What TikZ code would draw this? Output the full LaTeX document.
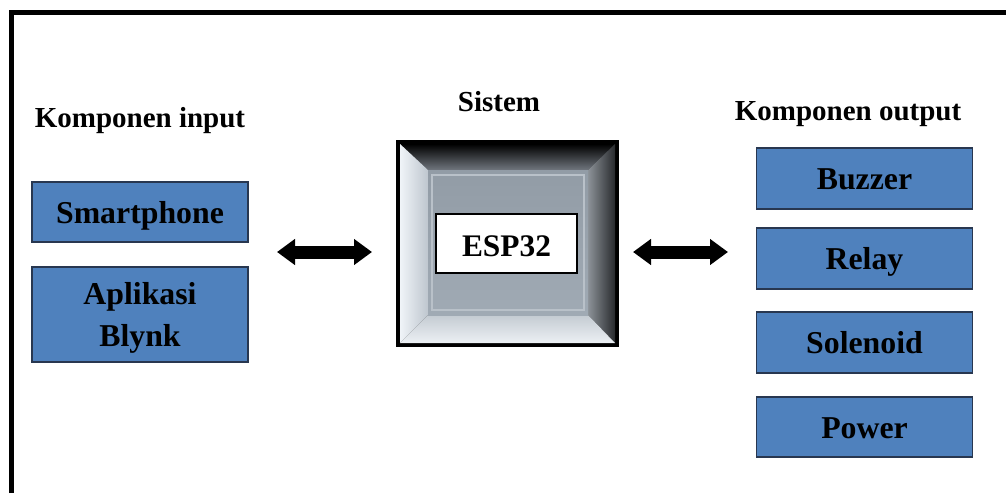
\documentclass[tikz,border=0pt]{standalone}
\usepackage{fontspec}
\setmainfont{Liberation Serif}
\usetikzlibrary{arrows.meta}
\definecolor{boxblue}{RGB}{79,129,189}
\definecolor{boxedge}{RGB}{40,55,80}
\definecolor{bevtopin}{RGB}{112,118,126}
\definecolor{bevleftout}{RGB}{240,244,248}
\definecolor{bevleftin}{RGB}{190,198,206}
\definecolor{bevrightin}{RGB}{140,146,152}
\definecolor{bevrightout}{RGB}{40,42,45}
\definecolor{bevbotin}{RGB}{196,203,210}
\definecolor{bevbotout}{RGB}{236,240,244}
\definecolor{facetop}{RGB}{146,156,166}
\definecolor{facebot}{RGB}{160,170,180}
\definecolor{faceline}{RGB}{185,193,201}
\begin{document}
\begin{tikzpicture}[x=1pt,y=-1pt,
  blockbox/.style={draw=boxedge, line width=1.5pt, fill=boxblue,
    minimum width=216pt, inner sep=0pt, align=center,
    text height=24pt, text depth=2pt,
    font=\fontsize{31.8}{42}\selectfont\bfseries},
  heading/.style={anchor=base, font=\fontsize{29}{34}\selectfont\bfseries},
  link/.style={line width=13pt, {Triangle[length=18pt,width=25pt]}-{Triangle[length=18pt,width=25pt]}}
]
\useasboundingbox (0,0) rectangle (1006,493);
% outer frame
\draw[line width=5pt] (11,493) -- (11,12.5) -- (1006,12.5);

% headings
\node[heading] (hin) at (140,127) {Komponen input};
\node[heading] (hsys) at (499,111) {Sistem};
\node[heading] (hout) at (848,120) {Komponen output};

% input blocks
\node[blockbox, minimum height=60pt] (phone) at (140,212) {Smartphone};
\node[blockbox, minimum height=95pt, text height=66pt] (app) at (140,314.5) {Aplikasi\\Blynk};

% output blocks
\node[blockbox, minimum height=61pt] (buzzer) at (864.5,178.5) {Buzzer};
\node[blockbox, minimum height=61pt] (relay) at (864.5,258.5) {Relay};
\node[blockbox, minimum height=61pt] (solenoid) at (864.5,342.5) {Solenoid};
\node[blockbox, minimum height=60pt] (power) at (864.5,427) {Power};

% bevelled system block
\fill[black] (396,140) rectangle (619,347);
\shade[top color=black, bottom color=bevtopin]
  (400,144) -- (615,144) -- (588,170) -- (428,170) -- cycle;
\shade[left color=bevleftout, right color=bevleftin]
  (400,144) -- (428,170) -- (428,315) -- (400,343) -- cycle;
\shade[left color=bevrightin, right color=bevrightout]
  (615,144) -- (615,343) -- (588,315) -- (588,170) -- cycle;
\shade[top color=bevbotin, bottom color=bevbotout]
  (400,343) -- (615,343) -- (588,315) -- (428,315) -- cycle;
\shade[top color=facetop, bottom color=facebot]
  (428,170) rectangle (588,315);
\draw[faceline, line width=1.5pt] (432,175) rectangle (584,310);
\node[draw=black, line width=1.2pt, fill=white, minimum width=141pt,
  minimum height=59pt, inner sep=0pt, text height=26pt, text depth=0pt,
  font=\fontsize{31.4}{38}\selectfont\bfseries] (esp) at (506.5,243.5) {ESP32};

% connectors
\coordinate (la) at (277,252);
\coordinate (lb) at (372,252);
\coordinate (ra) at (633,252);
\coordinate (rb) at (728,252);
\draw[link] (la) -- (lb);
\draw[link] (ra) -- (rb);
\end{tikzpicture}
\end{document}
